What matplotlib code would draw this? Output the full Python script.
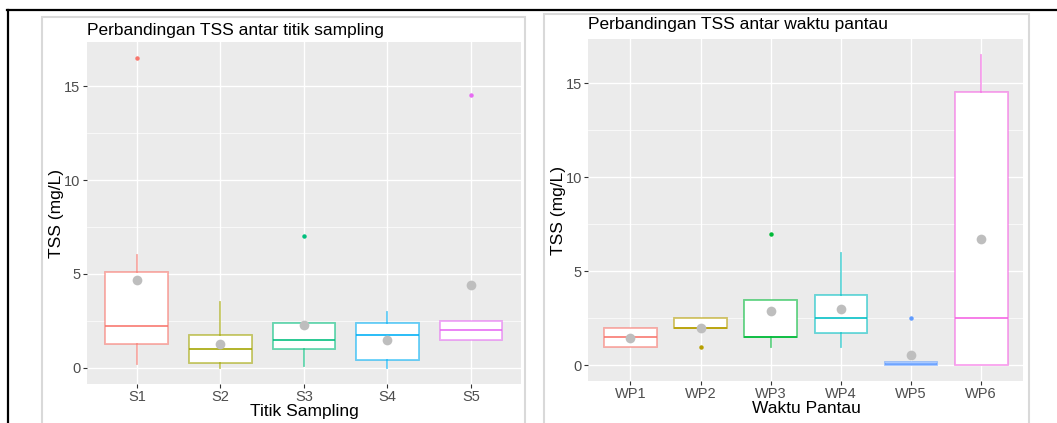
"""TSS boxplots: sampling points vs monitoring times (ggplot-like look)."""

import matplotlib
matplotlib.use("Agg")
import matplotlib.pyplot as plt
from matplotlib.colors import to_rgba
from matplotlib.patches import Rectangle
from matplotlib.lines import Line2D
from matplotlib.ticker import MultipleLocator

plt.rcParams["font.family"] = ["Liberation Sans", "DejaVu Sans"]

# --- data ----------------------------------------------------------------
sites = ["S1", "S2", "S3", "S4", "S5"]
site_q1 = [1.25, 0.25, 1.0, 0.4, 1.5]
site_med = [2.25, 1.0, 1.5, 1.75, 2.0]
site_q3 = [5.1, 1.75, 2.4, 2.4, 2.5]
site_lo = [0.2, 0.0, 0.1, 0.0, 1.5]
site_hi = [6.0, 3.5, 2.4, 3.0, 2.5]
site_out = [[16.5], [], [7.0], [], [14.5]]
site_mean = [4.7, 1.27, 2.27, 1.48, 4.4]
site_colors = ["#F8766D", "#A3A500", "#00BF7D", "#00B0F6", "#E76BF3"]

times = ["WP1", "WP2", "WP3", "WP4", "WP5", "WP6"]
time_q1 = [1.0, 2.0, 1.5, 1.75, 0.0, 0.0]
time_med = [1.5, 2.0, 1.5, 2.5, 0.1, 2.5]
time_q3 = [2.0, 2.5, 3.5, 3.72, 0.2, 14.5]
time_lo = [1.0, 2.0, 1.0, 1.0, 0.0, 0.0]
time_hi = [2.0, 2.5, 3.5, 6.0, 0.2, 16.5]
time_out = [[], [1.0], [7.0], [], [2.5], []]
time_mean = [1.47, 2.0, 2.9, 3.0, 0.55, 6.7]
time_colors = ["#F8766D", "#B79F00", "#00BA38", "#00BFC4", "#619CFF", "#F564E3"]

W, H = 1057, 423
fig = plt.figure(figsize=(W / 100, H / 100), dpi=100)
fig.patch.set_facecolor("white")


def px_axes(x0, y0, x1, y1):
    return fig.add_axes([x0 / W, 1 - y1 / H, (x1 - x0) / W, (y1 - y0) / H])


def px_text(x, y, s, **kw):
    fig.text(x / W, 1 - y / H, s, **kw)


# outer black frame and grey panel borders
fig.add_artist(Line2D([7 / W, 1], [1 - 10 / H] * 2, color="black", lw=1.6))
fig.add_artist(Line2D([7.5 / W] * 2, [0, 1 - 10 / H], color="black", lw=1.6))
for x0, y0, x1 in [(42, 17, 525), (544, 14, 1029)]:
    fig.add_artist(Rectangle((x0 / W, -0.05), (x1 - x0) / W, 1 - y0 / H + 0.05,
                             fill=False, edgecolor="#D9D9D9", lw=1.5))


def draw_panel(ax, labels, q1, med, q3, lo, hi, out, mean, colors):
    ax.set_facecolor("#EBEBEB")
    for s in ax.spines.values():
        s.set_visible(False)
    ax.set_axisbelow(True)
    ax.yaxis.set_major_locator(MultipleLocator(5))
    ax.yaxis.set_minor_locator(MultipleLocator(2.5))
    ax.grid(True, which="major", color="white", lw=1.0)
    ax.grid(True, which="minor", axis="y", color="white", lw=0.5)
    for i, lab in enumerate(labels):
        st = dict(med=med[i], q1=q1[i], q3=q3[i], whislo=lo[i], whishi=hi[i],
                  fliers=out[i], label=lab)
        c = colors[i]
        soft = to_rgba(c, 0.6)
        ax.bxp([st], positions=[i + 1], widths=0.75, patch_artist=True,
               showcaps=False,
               boxprops=dict(facecolor="white", edgecolor=soft, lw=1.3),
               whiskerprops=dict(color=soft, lw=1.3),
               medianprops=dict(color=to_rgba(c, 0.9), lw=1.3),
               flierprops=dict(marker="o", markersize=2.2, markerfacecolor=c,
                               markeredgecolor=c))
    ax.plot(range(1, len(labels) + 1), mean, "o", color="#BEBEBE",
            markersize=7, zorder=5, markeredgewidth=0)
    ax.set_xlim(0.4, len(labels) + 0.6)
    ax.set_ylim(-0.825, 17.325)
    ax.set_xticks(range(1, len(labels) + 1))
    ax.set_xticklabels(labels)
    ax.tick_params(axis="both", which="major", length=3, color="#333333",
                   labelcolor="#4D4D4D", labelsize=10.5, pad=1.5)
    ax.tick_params(axis="both", which="minor", length=0)


ax1 = px_axes(86.7, 42.3, 521, 383.5)
draw_panel(ax1, sites, site_q1, site_med, site_q3, site_lo, site_hi,
           site_out, site_mean, site_colors)
ax2 = px_axes(588.3, 39.3, 1023.3, 381)
draw_panel(ax2, times, time_q1, time_med, time_q3, time_lo, time_hi,
           time_out, time_mean, time_colors)

# titles and axis labels
px_text(87, 30, "Perbandingan TSS antar titik sampling", fontsize=12.5, va="center")
px_text(588, 25, "Perbandingan TSS antar waktu pantau", fontsize=12.5, va="center")
px_text(57, 213, "TSS (mg/L)", fontsize=12.5, rotation=90, ha="center", va="center")
px_text(558, 210, "TSS (mg/L)", fontsize=12.5, rotation=90, ha="center", va="center")
px_text(304, 411.5, "Titik Sampling", fontsize=12.5, ha="center", va="center")
px_text(806, 408.5, "Waktu Pantau", fontsize=12.5, ha="center", va="center")

fig.savefig("out.png", dpi=100)
